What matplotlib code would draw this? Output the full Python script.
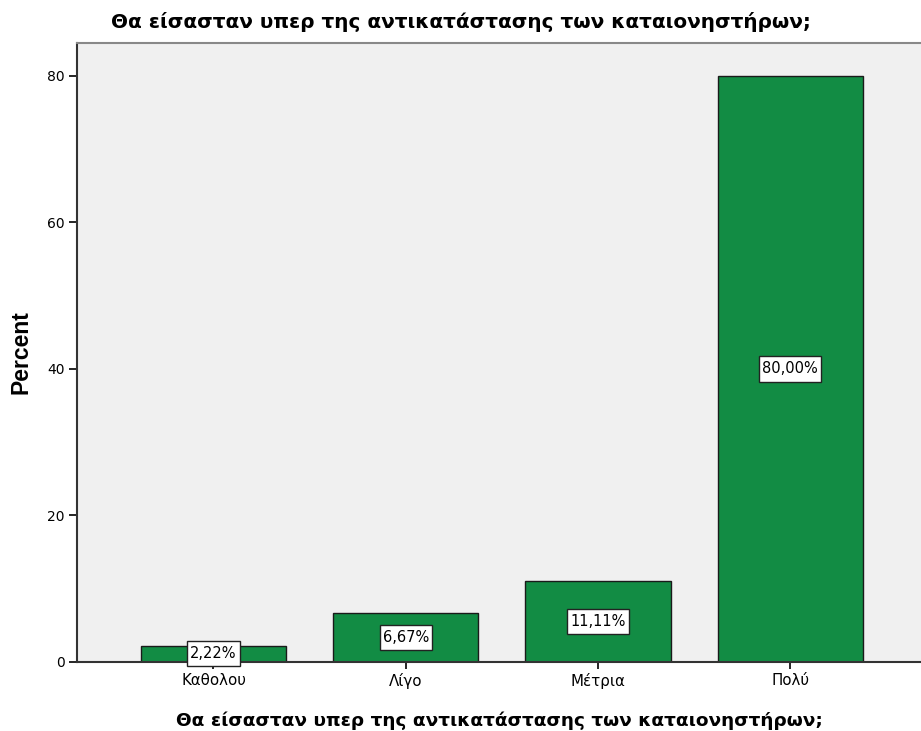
import matplotlib
matplotlib.use('Agg')
import matplotlib.pyplot as plt
from matplotlib.path import Path

plt.rcParams['font.family'] = ['DejaVu Sans']

categories = ['Καθολου', 'Λίγο', 'Μέτρια', 'Πολύ']
percent = [2.22, 6.67, 11.11, 80.00]
labels = ['2,22%', '6,67%', '11,11%', '80,00%']
yticks = [0, 20, 40, 60, 80]
title = 'Θα είσασταν υπερ της αντικατάστασης των καταιονηστήρων;'


def tall_box(x0, y0, width, height, mutation_size):
    # box with more room above/below than at the sides, like SPSS labels
    px = 0.2 * mutation_size
    py = 0.35 * mutation_size
    x0, y0 = x0 - px, y0 - py
    x1, y1 = x0 + width + 2 * px, y0 + height + 2 * py
    return Path([(x0, y0), (x1, y0), (x1, y1), (x0, y1), (x0, y0)], closed=True)


fig = plt.figure(figsize=(9.21, 7.31), dpi=100)
ax = fig.add_axes([0.0836, 0.0944, 0.9164, 0.8468])
ax.set_facecolor('#f0f0f0')

x = range(len(categories))
ax.bar(x, percent, width=0.755, color='#128c44', edgecolor='#1a1a1a', linewidth=1)

for a, b, t in zip(x, percent, labels):
    ax.text(a, b / 2, t, ha='center', va='center', fontsize=10.5,
            bbox=dict(boxstyle=tall_box, fc='white', ec='#222222', lw=1))

ax.set_xlim(-0.71, 3.68)
ax.set_ylim(0, 84.5)
ax.set_xticks(list(x))
ax.set_xticklabels(categories, fontsize=10.8)
ax.set_yticks(yticks)
ax.tick_params(axis='y', labelsize=10, length=6, width=1.2, pad=3)
ax.tick_params(axis='x', length=5, width=1.2, pad=3)

ax.spines['right'].set_visible(False)
ax.spines['top'].set_color('#888888')
ax.spines['top'].set_linewidth(1.5)
ax.spines['left'].set_color('#333333')
ax.spines['bottom'].set_color('#333333')
ax.spines['left'].set_linewidth(1.5)
ax.spines['bottom'].set_linewidth(1.5)

ax.set_ylabel('Percent', fontsize=16.5, fontweight='bold', labelpad=10,
              family='Liberation Sans')
ax.set_xlabel(title, fontsize=13.3, fontweight='bold', labelpad=16)
fig.text(0.5, 0.970, title, ha='center', va='center', fontsize=14.4, fontweight='bold')

fig.savefig('out.png', dpi=100)
